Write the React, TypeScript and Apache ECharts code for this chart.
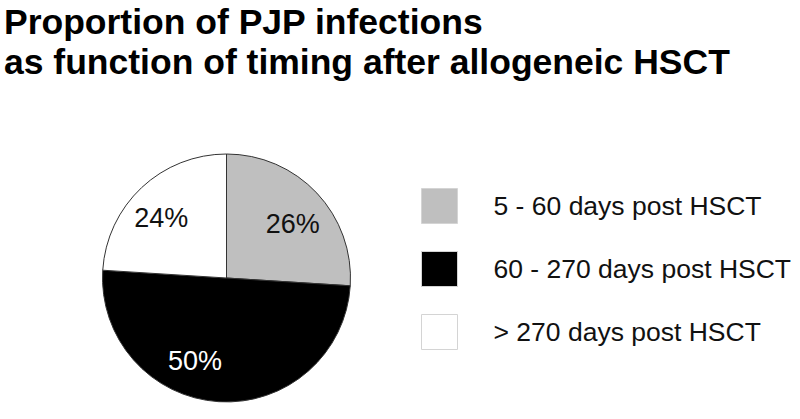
import React, { useEffect, useRef } from "react";
import * as echarts from "echarts";

const categories = ["5 - 60 days post HSCT", "60 - 270 days post HSCT", "> 270 days post HSCT"];
const percents = [26, 50, 24];
const sliceColors = ["#bfbfbf", "#000000", "#ffffff"];
const labelColors = ["#111111", "#ffffff", "#111111"];
const labelOffsets = [[2, 6], [-26, -5], [-5, 4]];
const titleText = "Proportion of PJP infections\nas function of timing after allogeneic HSCT";

export default function App() {
  const ref = useRef<HTMLDivElement>(null);
  useEffect(() => {
    const chart = echarts.init(ref.current!, null, { renderer: "svg" });
    const center = [226.5, 278];
    chart.setOption({
      animation: false,
      backgroundColor: "#ffffff",
      title: {
        text: titleText,
        left: 4,
        top: 2,
        padding: 0,
        textStyle: {
          fontFamily: "'Liberation Sans', Arial, sans-serif",
          fontWeight: "bold",
          fontSize: 35.5,
          lineHeight: 40,
          color: "#000",
        },
      },
      legend: {
        orient: "vertical",
        left: 421,
        top: 188,
        padding: 0,
        itemWidth: 36,
        itemHeight: 35,
        itemGap: 27,
        icon: "rect",
        itemStyle: { borderColor: "#d4d4d4", borderWidth: 1 },
        textStyle: {
          fontFamily: "'Liberation Sans', Arial, sans-serif",
          fontSize: 26.5,
          color: "#111",
          padding: [0, 0, 0, 31],
        },
        data: categories,
      },
      series: [
        {
          type: "pie",
          center,
          radius: [0, 124],
          startAngle: 90,
          clockwise: true,
          silent: true,
          label: { show: false },
          labelLine: { show: false },
          itemStyle: { borderColor: "#333", borderWidth: 1 },
          data: categories.map((name, i) => ({
            name,
            value: percents[i],
            itemStyle: { color: sliceColors[i] },
          })),
        },
        {
          type: "pie",
          center,
          radius: [46, 124],
          startAngle: 90,
          clockwise: true,
          silent: true,
          legendHoverLink: false,
          labelLine: { show: false },
          itemStyle: { color: "transparent", borderWidth: 0 },
          data: categories.map((name, i) => ({
            name: name + " ",
            value: percents[i],
            label: {
              show: true,
              position: "inside",
              formatter: percents[i] + "%",
              color: labelColors[i],
              fontSize: 27,
              fontFamily: "'Liberation Sans', Arial, sans-serif",
              offset: labelOffsets[i],
            },
          })),
        },
      ],
    });
    return () => chart.dispose();
  }, []);
  return (
    <div
      ref={ref}
      style={{ position: "fixed", left: 0, top: 0, width: 800, height: 419 }}
    />
  );
}
